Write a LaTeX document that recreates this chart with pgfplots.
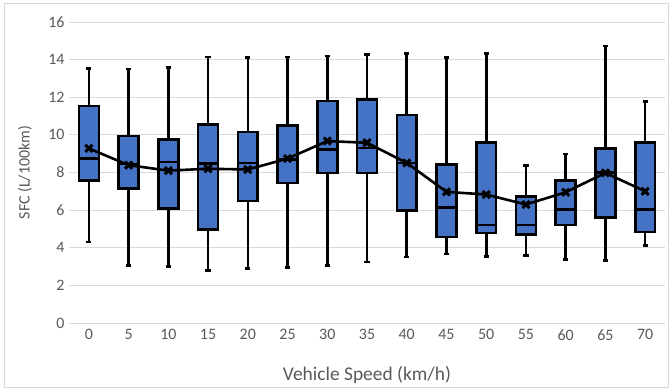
\documentclass[border=0pt]{standalone}
\usepackage{pgfplots}
\pgfplotsset{compat=1.18}
\usepgfplotslibrary{statistics}
\usepackage{fontspec}
\setmainfont{Carlito}
\definecolor{boxblue}{HTML}{4472C4}
\definecolor{txtgray}{HTML}{595959}
\definecolor{gridgray}{HTML}{D9D9D9}

% Mean specific fuel consumption per speed class
\pgfplotstableread{
pos mean
0  9.28
1  8.39
2  8.10
3  8.20
4  8.16
5  8.74
6  9.67
7  9.58
8  8.51
9  6.97
10 6.83
11 6.30
12 6.95
13 7.98
14 7.00
}\meandata

\newcommand{\sfcbox}[6]{%
  \addplot[boxplot prepared={draw position=#1, lower whisker=#2,
      lower quartile=#3, median=#4, upper quartile=#5, upper whisker=#6}]
    coordinates {};}

\begin{document}
\begin{tikzpicture}[x=1bp,y=1bp]
\useasboundingbox (0,0) rectangle (670,389);
\draw[gridgray, line width=0.8bp] (4,1.5) rectangle (668,386);
\begin{axis}[
  at={(69bp,66bp)}, anchor=south west,
  scale only axis, width=596bp, height=301bp,
  xmin=-0.5, xmax=14.5, ymin=0, ymax=16,
  ytick={0,2,...,16},
  xtick={0,...,14},
  xticklabels={0,5,10,15,20,25,30,35,40,45,50,55,60,65,70},
  axis line style={draw=none},
  major tick length=0pt,
  ymajorgrids, grid style={gridgray, line width=0.8bp},
  tick label style={font=\fontsize{16}{18}\selectfont, text=txtgray},
  /pgf/number format/assume math mode=true,
  yticklabel style={xshift=-1bp},
  xticklabel style={yshift=-3bp},
  xlabel={Vehicle Speed (km/h)},
  ylabel={SFC (L/100km)},
  every axis x label/.style={at={([yshift=-52bp]axis description cs:0.5,0)}, anchor=center,
    font=\fontsize{19.5}{22}\selectfont, text=txtgray},
  every axis y label/.style={at={([xshift=-44bp]axis description cs:0,0.5)}, rotate=90, anchor=center,
    font=\fontsize{16}{18}\selectfont, text=txtgray},
  boxplot/draw direction=y,
  boxplot/box extend=0.5,
  boxplot/whisker extend=0.13,
  boxplot/every box/.style={draw=black, fill=boxblue, line width=2.6bp},
  boxplot/every whisker/.style={draw=black, line width=2.6bp},
  boxplot/every median/.style={draw=black, line width=2.6bp},
]
%       pos  lw    q1    med   q3     uw
\sfcbox{0}{4.31}{7.57}{8.73}{11.53}{13.52}
\sfcbox{1}{3.07}{7.15}{8.45}{9.93}{13.50}
\sfcbox{2}{3.01}{6.10}{8.55}{9.76}{13.57}
\sfcbox{3}{2.80}{4.97}{8.48}{10.55}{14.13}
\sfcbox{4}{2.89}{6.49}{8.50}{10.15}{14.10}
\sfcbox{5}{2.96}{7.45}{8.70}{10.50}{14.13}
\sfcbox{6}{3.07}{7.98}{9.22}{11.80}{14.19}
\sfcbox{7}{3.25}{7.98}{9.31}{11.88}{14.28}
\sfcbox{8}{3.51}{5.99}{8.50}{11.05}{14.31}
\sfcbox{9}{3.67}{4.58}{6.15}{8.42}{14.10}
\sfcbox{10}{3.55}{4.79}{5.20}{9.61}{14.31}
\sfcbox{11}{3.58}{4.70}{5.20}{6.74}{8.37}
\sfcbox{12}{3.37}{5.20}{6.03}{7.57}{8.99}
\sfcbox{13}{3.33}{5.62}{8.00}{9.28}{14.72}
\sfcbox{14}{4.11}{4.84}{6.03}{9.58}{11.76}
% mean line with cross markers
\addplot[black, line width=2.6bp, mark=x, mark size=5bp,
  mark options={line width=3bp}] table[x=pos, y=mean] {\meandata};
\end{axis}
\end{tikzpicture}
\end{document}
